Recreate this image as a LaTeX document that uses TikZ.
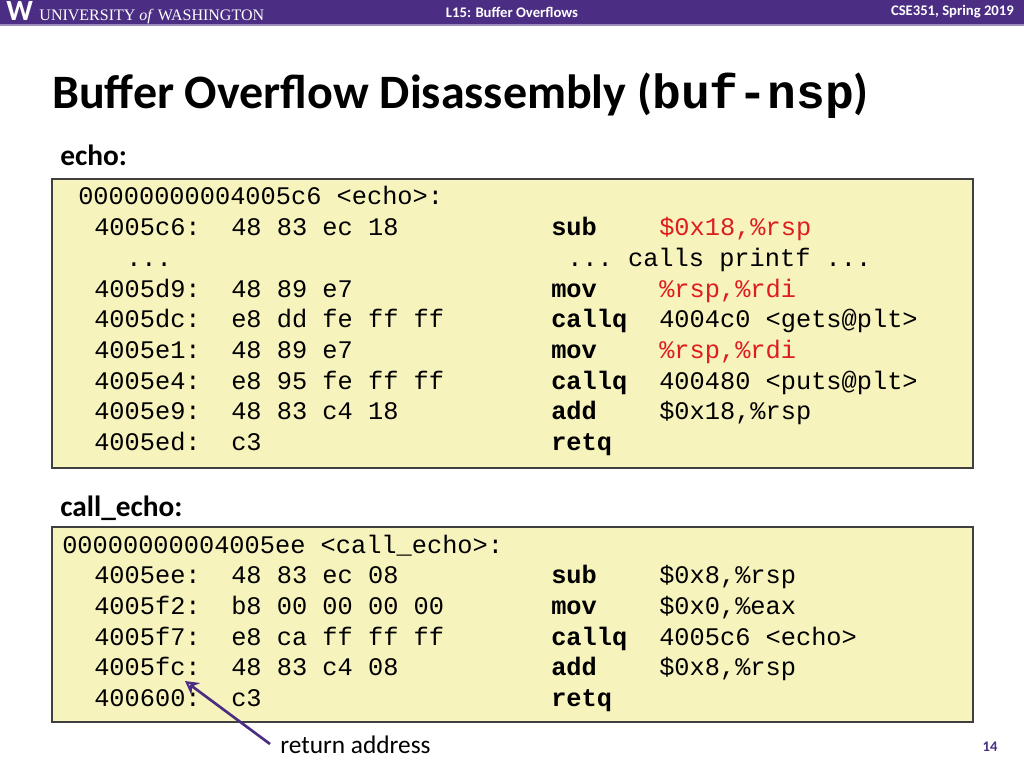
\documentclass[tikz,border=0pt]{standalone}
\usepackage{fontspec}
\setmainfont{Carlito}
\setmonofont{Liberation Mono}
\usetikzlibrary{arrows.meta}
\definecolor{uwpurple}{RGB}{75,46,131}
\definecolor{codebg}{RGB}{247,243,189}
\definecolor{codered}{RGB}{220,30,30}
\begin{document}
\begin{tikzpicture}[x=0.75pt,y=-0.75pt,
  code/.style={anchor=west,inner sep=0pt,text height=11pt,text depth=3pt,font=\fontsize{19}{19}\selectfont\ttfamily},
  mn/.style={code,font=\fontsize{19}{19}\selectfont\ttfamily\bfseries},
  rd/.style={code,text=codered},
  box/.style={draw=black!75,line width=1pt,fill=codebg}]
\useasboundingbox (0,0) rectangle (1024,768);
\fill[uwpurple] (0,0) rectangle (1024,24);
\fill[uwpurple!55] (0,24) rectangle (1024,26);
\node[anchor=west,text=white,inner sep=0pt] (logo) at (6,13) {\fontsize{22}{22}\selectfont\bfseries W\ \mdseries\fontsize{12}{12}\selectfont\setmainfont{Liberation Serif}UNIVERSITY \textit{of} WASHINGTON};
\node[text=white,inner sep=0pt,font=\fontsize{11}{11}\selectfont\bfseries] (lec) at (512,12) {L15: Buffer Overflows};
\node[anchor=east,text=white,inner sep=0pt,font=\fontsize{11}{11}\selectfont\bfseries] (crs) at (1014,12) {CSE351, Spring 2019};
\node[anchor=base west,inner sep=0pt,font=\fontsize{36}{36}\selectfont\bfseries] (title) at (52,108) {Buffer Overflow Disassembly (\texttt{buf-nsp})};
\node[anchor=west,inner sep=0pt,font=\fontsize{22}{22}\selectfont\bfseries] (l1) at (60,155) {echo:};
\draw[box] (52,179) rectangle (973,468);
\node[code] (a0) at (78,199) {00000000004005c6 <echo>:};
\node[code] (a1) at (94,230) {4005c6:};  \node[code] (b1) at (231,230) {48 83 ec 18};
\node[mn] (m1) at (551,230) {sub}; \node[rd] (o1) at (659,230) {\$0x18,\%rsp};
\node[code] (a2) at (126,261) {...}; \node[code] (o2) at (567,261) {... calls printf ...};
\node[code] (a3) at (94,292) {4005d9:};  \node[code] (b3) at (231,292) {48 89 e7};
\node[mn] (m3) at (551,292) {mov}; \node[rd] (o3) at (659,292) {\%rsp,\%rdi};
\node[code] (a4) at (94,322) {4005dc:};  \node[code] (b4) at (231,322) {e8 dd fe ff ff};
\node[mn] (m4) at (551,322) {callq}; \node[code] (o4) at (659,322) {4004c0 <gets@plt>};
\node[code] (a5) at (94,353) {4005e1:};  \node[code] (b5) at (231,353) {48 89 e7};
\node[mn] (m5) at (551,353) {mov}; \node[rd] (o5) at (659,353) {\%rsp,\%rdi};
\node[code] (a6) at (94,384) {4005e4:};  \node[code] (b6) at (231,384) {e8 95 fe ff ff};
\node[mn] (m6) at (551,384) {callq}; \node[code] (o6) at (659,384) {400480 <puts@plt>};
\node[code] (a7) at (94,414) {4005e9:};  \node[code] (b7) at (231,414) {48 83 c4 18};
\node[mn] (m7) at (551,414) {add}; \node[code] (o7) at (659,414) {\$0x18,\%rsp};
\node[code] (a8) at (94,445) {4005ed:};  \node[code] (b8) at (231,445) {c3};
\node[mn] (m8) at (551,445) {retq};
\node[anchor=west,inner sep=0pt,font=\fontsize{22}{22}\selectfont\bfseries] (l2) at (60,508) {call\_echo:};
\draw[box] (52,527) rectangle (973,722);
\node[code] (c0) at (62,548) {00000000004005ee <call\_echo>:};
\node[code] (c1) at (94,578) {4005ee:}; \node[code] (d1) at (231,578) {48 83 ec 08};
\node[mn] (n1) at (551,578) {sub}; \node[code] (p1) at (659,578) {\$0x8,\%rsp};
\node[code] (c2) at (94,609) {4005f2:}; \node[code] (d2) at (231,609) {b8 00 00 00 00};
\node[mn] (n2) at (551,609) {mov}; \node[code] (p2) at (659,609) {\$0x0,\%eax};
\node[code] (c3) at (94,640) {4005f7:}; \node[code] (d3) at (231,640) {e8 ca ff ff ff};
\node[mn] (n3) at (551,640) {callq}; \node[code] (p3) at (659,640) {4005c6 <echo>};
\node[code] (c4) at (94,670) {4005fc:}; \node[code] (d4) at (231,670) {48 83 c4 08};
\node[mn] (n4) at (551,670) {add}; \node[code] (p4) at (659,670) {\$0x8,\%rsp};
\node[code] (c5) at (94,701) {400600:}; \node[code] (d5) at (231,701) {c3};
\node[mn] (n5) at (551,701) {retq};
\node[anchor=west,inner sep=0pt,font=\fontsize{19}{19}\selectfont] (ret) at (280,745) {return address};
\coordinate (tip) at (185,681);
\draw[uwpurple,line width=2pt,-{Stealth[open,length=10pt,width=11pt]}] (270,744) -- (tip);
\node[text=uwpurple,inner sep=0pt,font=\fontsize{11}{11}\selectfont\bfseries] (pg) at (990,747) {14};
\end{tikzpicture}
\end{document}
